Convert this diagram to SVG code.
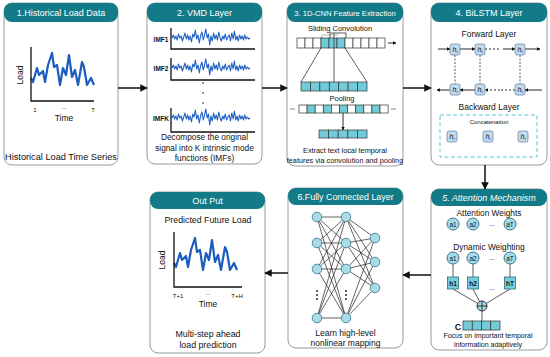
<svg xmlns="http://www.w3.org/2000/svg" xmlns:xlink="http://www.w3.org/1999/xlink" width="550" height="357" viewBox="0 0 550 357">
<style>
text{font-family:"Liberation Sans","DejaVu Sans",sans-serif;fill:#111;text-anchor:middle}
.box{fill:#fff;stroke:#9a9a9a;stroke-width:1}
.hdr{fill:#127b87}
.ttl{fill:#fff}
.wave{fill:none;stroke:#1b5cbf;stroke-width:2.2;stroke-linejoin:round}
.imf{fill:none;stroke:#1f5fc4;stroke-width:1.1;stroke-linejoin:round}
.ax{fill:none;stroke:#111;stroke-width:1.3}
.thin{fill:none;stroke:#333;stroke-width:0.8}
.cell{fill:#fff;stroke:#333;stroke-width:0.7}
.tc{fill:#72cbd8;stroke:#333;stroke-width:0.7}
.lstm{fill:#c3dbef;stroke:#6a8aa5;stroke-width:0.8}
.node{fill:#a7dce8;stroke:#3a7486;stroke-width:0.8}
.att{fill:#a3dbe9;stroke:#2e6b80;stroke-width:0.9}
.conn{fill:none;stroke:#111;stroke-width:1.5}
.sm{fill:none;stroke:#111;stroke-width:0.9}
</style>
<defs>
<marker id="ah" viewBox="0 0 10 10" refX="9" refY="5" markerWidth="5" markerHeight="5" orient="auto"><path d="M0,0 L10,5 L0,10 z" fill="#111"/></marker>
<marker id="sh" viewBox="0 0 10 10" refX="9" refY="5" markerWidth="4" markerHeight="4" orient="auto"><path d="M0,0 L10,5 L0,10 z" fill="#111"/></marker>
<polyline id="lw" class="wave" points="31,78 33,82 37,68 39,75 43,71 45,82 48,65 52,53 54,67 57,65 60,85 63,68 66,75 69,55 72,77 75,70 78,85 82,62 84,67 87,85 91,78 94,85"/>
<polyline id="iw" class="imf" points="0,0 1.3,-3 2.6,1 3.9,-2 5.2,2 6.5,-4 7.8,0 9.1,-2 10.4,3 11.7,-1 13,-5 14.3,1 15.6,-3 16.9,2 18.2,-2 19.5,4 20.8,-4 22.1,-1 23.4,-8 24.7,1 26,-3 27.3,5 28.6,-2 29.9,-6 31.2,2 32.5,-3 33.8,-9 35.1,0 36.4,-4 37.7,7 39,-2 40.3,3 41.6,-5 42.9,1 44.2,-3 45.5,2 46.8,-6 48.1,0 49.4,3 50.7,-2 52,1 53.3,-4 54.6,2 55.9,-1 57.2,-3 58.5,3 59.8,-5 61.1,1 62.4,-7 63.7,2 65,-2 66.3,3 67.6,-3 68.9,1 70.2,-2 71.5,2 72.8,-3 74.1,1 75.4,-1 76.7,1 78,0"/>
</defs>

<g id="n1">
<rect class="box" x="4" y="3" width="114" height="162" rx="8"/>
<rect class="hdr" x="4" y="3" width="114" height="19" rx="8"/>
<text class="ttl" x="61" y="16" font-size="9">1.Historical Load Data</text>
<use xlink:href="#lw"/>
<path class="ax" d="M31,47 V101 H94"/>
<text x="21" y="75" font-size="8.5" transform="rotate(-90 21 75)" dominant-baseline="middle">Load</text>
<text x="35" y="112" font-size="6">1</text>
<text x="93" y="112" font-size="6">T</text>
<text x="64" y="109" font-size="6">...</text>
<text x="64" y="121" font-size="8.5">Time</text>
<text x="61" y="160" font-size="9.2">Historical Load Time Series</text>
</g>

<g id="n2">
<rect class="box" x="147" y="3" width="115" height="161" rx="8"/>
<rect class="hdr" x="147" y="3" width="115" height="19" rx="8"/>
<text class="ttl" x="204.5" y="16" font-size="9">2. VMD Layer</text>
<text x="161" y="42" font-size="6.5" font-weight="bold">IMF1</text>
<use xlink:href="#iw" transform="translate(172,38)"/>
<path class="ax" d="M171,28 V49 H255" stroke-width="0.8"/>
<text x="161" y="71" font-size="6.5" font-weight="bold">IMF2</text>
<use xlink:href="#iw" transform="translate(172,68)"/>
<path class="ax" d="M171,58 V80 H255" stroke-width="0.8"/>
<circle cx="203" cy="83" r="0.8" fill="#111"/>
<circle cx="203" cy="93" r="0.8" fill="#111"/>
<circle cx="203" cy="103" r="0.8" fill="#111"/>
<text x="161" y="121" font-size="6.5" font-weight="bold">IMFK</text>
<use xlink:href="#iw" transform="translate(172,118)"/>
<path class="ax" d="M171,108 V132 H255" stroke-width="0.8"/>
<text x="204.5" y="140" font-size="8.3">Decompose the original</text>
<text x="204.5" y="150.5" font-size="8.3">signal into K intrinsic mode</text>
<text x="204.5" y="161" font-size="8.3">functions (IMFs)</text>
</g>

<g id="n3">
<rect class="box" x="287" y="3" width="116" height="163" rx="8"/>
<rect class="hdr" x="287" y="3" width="116" height="19" rx="8"/>
<text class="ttl" x="345" y="16" font-size="7.6">3. 1D-CNN Feature Extraction</text>
<text x="340" y="31" font-size="7.5">Sliding Convolution</text>
<path d="M322,38 V35 H338" fill="none" stroke="#aaa" stroke-width="0.8"/>
<path d="M330,38 V33 H346 V38" fill="none" stroke="#333" stroke-width="0.8"/>
<rect class="cell" x="297" y="38" width="8" height="10"/>
<rect class="cell" x="305" y="38" width="8" height="10"/>
<rect class="cell" x="313" y="38" width="8" height="10"/>
<rect class="tc" x="321" y="38" width="8" height="10"/>
<rect class="tc" x="329" y="38" width="8" height="10"/>
<rect class="tc" x="337" y="38" width="8" height="10"/>
<rect class="cell" x="345" y="38" width="8" height="10"/>
<rect class="cell" x="353" y="38" width="8" height="10"/>
<rect class="cell" x="361" y="38" width="8" height="10"/>
<rect class="cell" x="369" y="38" width="8" height="10"/>
<rect class="cell" x="377" y="38" width="8" height="10"/>
<line class="sm" x1="388" y1="43" x2="396" y2="43" marker-end="url(#sh)"/>
<line class="thin" x1="321" y1="48" x2="301" y2="82"/>
<line class="thin" x1="345" y1="48" x2="367" y2="82"/>
<line class="thin" x1="334" y1="33" x2="334" y2="82"/>
<rect class="tc" x="301" y="82" width="9.43" height="9"/>
<rect class="tc" x="310.43" y="82" width="9.43" height="9"/>
<rect class="tc" x="319.86" y="82" width="9.43" height="9"/>
<rect class="tc" x="329.29" y="82" width="9.43" height="9"/>
<rect class="tc" x="338.71" y="82" width="9.43" height="9"/>
<rect class="tc" x="348.14" y="82" width="9.43" height="9"/>
<rect class="tc" x="357.57" y="82" width="9.43" height="9"/>
<text x="342" y="101" font-size="7.5">Pooling</text>
<line x1="290" y1="109" x2="295" y2="109" stroke="#555" stroke-width="0.7"/>
<line x1="391" y1="109" x2="396" y2="109" stroke="#555" stroke-width="0.7"/>
<rect class="cell" x="299" y="105" width="8.1" height="8"/>
<rect class="tc" x="307.1" y="105" width="8.1" height="8"/>
<rect class="cell" x="315.2" y="105" width="8.1" height="8"/>
<rect class="tc" x="323.3" y="105" width="8.1" height="8"/>
<rect class="cell" x="331.4" y="105" width="8.1" height="8"/>
<rect class="tc" x="339.5" y="105" width="8.1" height="8"/>
<rect class="cell" x="347.6" y="105" width="8.1" height="8"/>
<rect class="tc" x="355.7" y="105" width="8.1" height="8"/>
<rect class="cell" x="363.8" y="105" width="8.1" height="8"/>
<rect class="tc" x="371.9" y="105" width="8.1" height="8"/>
<rect class="cell" x="380" y="105" width="8.1" height="8"/>
<line class="sm" x1="343" y1="113" x2="343" y2="130" stroke-width="1.1" marker-end="url(#sh)"/>
<rect class="tc" x="319" y="130" width="9.6" height="8"/>
<rect class="tc" x="328.6" y="130" width="9.6" height="8"/>
<rect class="tc" x="338.2" y="130" width="9.6" height="8"/>
<rect class="tc" x="347.8" y="130" width="9.6" height="8"/>
<rect class="tc" x="357.4" y="130" width="9.6" height="8"/>
<text x="345" y="153" font-size="7.3">Extract text local temporal</text>
<text x="345" y="163" font-size="7.3">features via convolution and pooling</text>
</g>

<g id="n4">
<rect class="box" x="431" y="3" width="116" height="162" rx="8"/>
<rect class="hdr" x="431" y="3" width="116" height="19" rx="8"/>
<text class="ttl" x="489" y="16" font-size="9">4. BiLSTM Layer</text>
<text x="489" y="37" font-size="8.5">Forward Layer</text>
<line x1="455" y1="55" x2="455" y2="84" stroke="#333" stroke-width="0.8" stroke-dasharray="2,1.5"/>
<line x1="480" y1="55" x2="480" y2="84" stroke="#333" stroke-width="0.8" stroke-dasharray="2,1.5"/>
<line x1="520" y1="55" x2="520" y2="84" stroke="#333" stroke-width="0.8" stroke-dasharray="2,1.5"/>
<line class="sm" x1="438" y1="49" x2="450" y2="49" marker-end="url(#sh)"/>
<line class="sm" x1="460" y1="49" x2="475" y2="49" marker-end="url(#sh)"/>
<line class="sm" x1="485" y1="49" x2="500" y2="49" stroke-dasharray="2,2"/>
<line class="sm" x1="503" y1="49" x2="515" y2="49" marker-end="url(#sh)"/>
<line class="sm" x1="525" y1="49" x2="540" y2="49" marker-end="url(#sh)"/>
<line class="sm" x1="450" y1="90" x2="437" y2="90" marker-end="url(#sh)"/>
<line class="sm" x1="475" y1="90" x2="460" y2="90" marker-end="url(#sh)"/>
<line class="sm" x1="515" y1="90" x2="500" y2="90" stroke-dasharray="2,2"/>
<line class="sm" x1="500" y1="90" x2="485" y2="90" stroke-dasharray="2,2" marker-end="url(#sh)"/>
<line class="sm" x1="542" y1="90" x2="525" y2="90" marker-end="url(#sh)"/>
<g font-size="7" font-style="italic">
<rect class="lstm" x="450" y="44" width="10" height="11" rx="2"/><text x="455" y="52">h<tspan font-size="4" dy="1">t</tspan></text>
<rect class="lstm" x="475" y="44" width="10" height="11" rx="2"/><text x="480" y="52">h<tspan font-size="4" dy="1">t</tspan></text>
<rect class="lstm" x="515" y="44" width="10" height="11" rx="2"/><text x="520" y="52">h<tspan font-size="4" dy="1">t</tspan></text>
<rect class="lstm" x="450" y="84" width="10" height="11" rx="2"/><text x="455" y="92">h<tspan font-size="4" dy="1">t</tspan></text>
<rect class="lstm" x="475" y="84" width="10" height="11" rx="2"/><text x="480" y="92">h<tspan font-size="4" dy="1">t</tspan></text>
<rect class="lstm" x="515" y="84" width="10" height="11" rx="2"/><text x="520" y="92">h<tspan font-size="4" dy="1">t</tspan></text>
</g>
<text x="489" y="110" font-size="8.5">Backward Layer</text>
<rect x="440" y="115" width="97" height="42" fill="none" stroke="#5cc6d6" stroke-width="1" stroke-dasharray="4,2.5"/>
<text x="489" y="124" font-size="6">Concatenation</text>
<g font-size="7" font-style="italic">
<rect class="lstm" x="447" y="131" width="10" height="11" rx="2"/><text x="452" y="139">h<tspan font-size="4" dy="1">t</tspan></text>
<rect class="lstm" x="483" y="131" width="10" height="11" rx="2"/><text x="488" y="139">h<tspan font-size="4" dy="1">t</tspan></text>
<rect class="lstm" x="518" y="131" width="10" height="11" rx="2"/><text x="523" y="139">h<tspan font-size="4" dy="1">t</tspan></text>
</g>
</g>

<g id="n5">
<rect class="box" x="431" y="189" width="116" height="161" rx="8"/>
<rect class="hdr" x="431" y="189" width="116" height="17" rx="8"/>
<text class="ttl" x="489" y="201" font-size="9" font-style="italic">5. Attention Mechanism</text>
<text x="489" y="216" font-size="8.3">Attention Weights</text>
<g font-size="6.5">
<circle class="att" cx="453" cy="224" r="6"/><text x="453" y="226.5">a1</text>
<circle class="att" cx="473" cy="224" r="6"/><text x="473" y="226.5">a2</text>
<text x="492" y="226">...</text>
<circle class="att" cx="510" cy="224" r="6"/><text x="510" y="226.5">aT</text>
</g>
<text x="489" y="250" font-size="8.3">Dynamic Weighting</text>
<line class="thin" x1="453" y1="264" x2="453" y2="277"/>
<line class="thin" x1="473" y1="264" x2="473" y2="277"/>
<line class="thin" x1="510" y1="264" x2="510" y2="277"/>
<line class="thin" x1="453" y1="289" x2="482" y2="306"/>
<line class="thin" x1="473" y1="289" x2="482" y2="306"/>
<line class="thin" x1="510" y1="289" x2="482" y2="306"/>
<line class="thin" x1="482" y1="306" x2="482" y2="321"/>
<g font-size="6.5">
<circle class="att" cx="453" cy="258" r="6"/><text x="453" y="260.5">a1</text>
<circle class="att" cx="473" cy="258" r="6"/><text x="473" y="260.5">a2</text>
<text x="492" y="260">...</text>
<circle class="att" cx="510" cy="258" r="6"/><text x="510" y="260.5">aT</text>
</g>
<g font-size="6.5" font-weight="bold">
<rect x="447.5" y="277" width="11" height="12" fill="#78cddb" stroke="#2b6f80" stroke-width="0.8"/><text x="453" y="285.5">h1</text>
<rect x="467.5" y="277" width="11" height="12" fill="#78cddb" stroke="#2b6f80" stroke-width="0.8"/><text x="473" y="285.5">h2</text>
<text x="492" y="290" font-weight="normal">...</text>
<rect x="504.5" y="277" width="11" height="12" fill="#78cddb" stroke="#2b6f80" stroke-width="0.8"/><text x="510" y="285.5">hT</text>
</g>
<circle cx="482" cy="306" r="5" fill="#a3dbe9" stroke="#222" stroke-width="0.9"/>
<path d="M477,306 H487 M482,301 V311" stroke="#222" stroke-width="0.9"/>
<text x="458" y="330" font-size="9" font-weight="bold">C</text>
<rect class="tc" x="463" y="321" width="9.25" height="9"/>
<rect class="tc" x="472.25" y="321" width="9.25" height="9"/>
<rect class="tc" x="481.5" y="321" width="9.25" height="9"/>
<rect class="tc" x="490.75" y="321" width="9.25" height="9"/>
<text x="488" y="338" font-size="7">Focus on important temporal</text>
<text x="488" y="347" font-size="7">information adaptively</text>
</g>

<g id="n6">
<rect class="box" x="288" y="188" width="115" height="160" rx="8"/>
<rect class="hdr" x="288" y="188" width="115" height="17" rx="8"/>
<text class="ttl" x="345.5" y="200" font-size="8.9">6.Fully Connected Layer</text>
<g stroke="#222" stroke-width="0.7">
<line x1="317" y1="217" x2="346" y2="217"/><line x1="317" y1="217" x2="346" y2="243"/><line x1="317" y1="217" x2="346" y2="269"/><line x1="317" y1="217" x2="346" y2="318"/>
<line x1="317" y1="243" x2="346" y2="217"/><line x1="317" y1="243" x2="346" y2="243"/><line x1="317" y1="243" x2="346" y2="269"/><line x1="317" y1="243" x2="346" y2="318"/>
<line x1="317" y1="269" x2="346" y2="217"/><line x1="317" y1="269" x2="346" y2="243"/><line x1="317" y1="269" x2="346" y2="269"/><line x1="317" y1="269" x2="346" y2="318"/>
<line x1="317" y1="318" x2="346" y2="217"/><line x1="317" y1="318" x2="346" y2="243"/><line x1="317" y1="318" x2="346" y2="269"/><line x1="317" y1="318" x2="346" y2="318"/>
<line x1="346" y1="217" x2="375" y2="238"/><line x1="346" y1="217" x2="375" y2="262"/><line x1="346" y1="217" x2="375" y2="288"/>
<line x1="346" y1="243" x2="375" y2="238"/><line x1="346" y1="243" x2="375" y2="262"/><line x1="346" y1="243" x2="375" y2="288"/>
<line x1="346" y1="269" x2="375" y2="238"/><line x1="346" y1="269" x2="375" y2="262"/><line x1="346" y1="269" x2="375" y2="288"/>
<line x1="346" y1="318" x2="375" y2="238"/><line x1="346" y1="318" x2="375" y2="262"/><line x1="346" y1="318" x2="375" y2="288"/>
</g>
<circle class="node" cx="317" cy="217" r="4.8"/><circle class="node" cx="317" cy="243" r="4.8"/><circle class="node" cx="317" cy="269" r="4.8"/><circle class="node" cx="317" cy="318" r="4.8"/>
<circle class="node" cx="346" cy="217" r="4.8"/><circle class="node" cx="346" cy="243" r="4.8"/><circle class="node" cx="346" cy="269" r="4.8"/><circle class="node" cx="346" cy="318" r="4.8"/>
<circle class="node" cx="375" cy="238" r="4.8"/><circle class="node" cx="375" cy="262" r="4.8"/><circle class="node" cx="375" cy="288" r="4.8"/>
<g fill="#111"><circle cx="317" cy="291" r="0.9"/><circle cx="317" cy="295" r="0.9"/><circle cx="317" cy="299" r="0.9"/><circle cx="346" cy="291" r="0.9"/><circle cx="346" cy="295" r="0.9"/><circle cx="346" cy="299" r="0.9"/></g>
<text x="345.5" y="336" font-size="8.5">Learn high-level</text>
<text x="345.5" y="346" font-size="8.5">nonlinear mapping</text>
</g>

<g id="n7">
<rect class="box" x="150" y="192" width="115" height="161" rx="8"/>
<rect class="hdr" x="150" y="192" width="115" height="17" rx="8"/>
<text class="ttl" x="207.5" y="204" font-size="9">Out Put</text>
<text x="208" y="223" font-size="8.8">Predicted Future Load</text>
<use xlink:href="#lw" transform="translate(143,185)"/>
<path class="ax" d="M174,232 V287 H242"/>
<text x="163" y="260" font-size="8.5" transform="rotate(-90 163 260)" dominant-baseline="middle">Load</text>
<text x="178" y="298" font-size="6">T+1</text>
<text x="237" y="298" font-size="6">T+H</text>
<text x="208" y="295" font-size="6">...</text>
<text x="208" y="307" font-size="8.5">Time</text>
<text x="208" y="337" font-size="8.8">Multi-step ahead</text>
<text x="208" y="347.5" font-size="8.8">load prediction</text>
</g>

<g id="connectors">
<line class="conn" x1="118" y1="88" x2="147" y2="88" marker-end="url(#ah)"/>
<line class="conn" x1="262" y1="88" x2="287" y2="88" marker-end="url(#ah)"/>
<line class="conn" x1="403" y1="88" x2="431" y2="88" marker-end="url(#ah)"/>
<line class="conn" x1="485" y1="165" x2="485" y2="189" marker-end="url(#ah)"/>
<line class="conn" x1="431" y1="275" x2="403" y2="275" marker-end="url(#ah)"/>
<line class="conn" x1="288" y1="273" x2="265" y2="273" marker-end="url(#ah)"/>
</g>
</svg>
